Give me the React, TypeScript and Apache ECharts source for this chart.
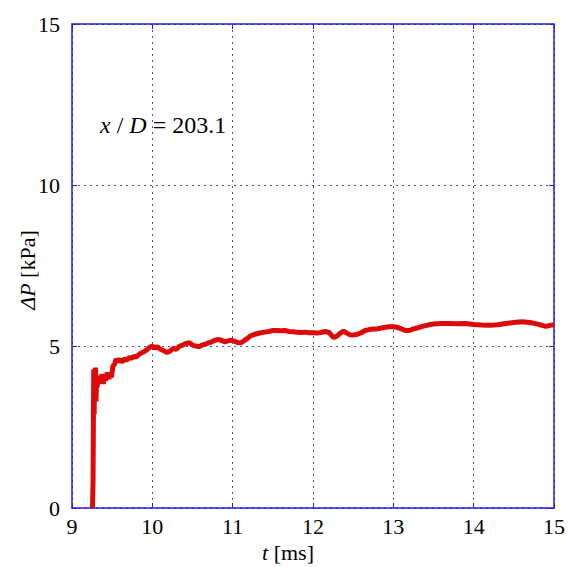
import React, { useEffect, useRef } from "react";
import * as echarts from "echarts";

// Pressure trace: [t (ms), ΔP (kPa)]
const pressureTrace: [number, number][] = [
  [9.255, 0], [9.262, 0.8], [9.266, 2.6], [9.271, 4.3], [9.276, 2.9], [9.281, 4.2],
  [9.287, 3.5], [9.293, 4.35], [9.299, 3.3], [9.306, 4.0], [9.314, 3.75], [9.322, 4.1],
  [9.333, 3.85], [9.345, 4.05], [9.36, 3.9], [9.375, 4.15], [9.39, 3.85], [9.405, 4.1],
  [9.42, 3.95], [9.44, 4.2], [9.46, 4.0], [9.475, 4.2], [9.49, 4.05], [9.51, 4.4],
  [9.53, 4.45], [9.55, 4.62], [9.57, 4.55], [9.6, 4.6], [9.62, 4.52], [9.65, 4.62],
  [9.68, 4.58], [9.71, 4.66], [9.74, 4.64], [9.77, 4.7], [9.8, 4.68], [9.83, 4.75],
  [9.86, 4.8], [9.9, 4.85], [9.93, 4.9], [9.96, 4.97], [10.0, 5.02], [10.03, 4.95],
  [10.06, 5.0], [10.1, 4.92], [10.14, 4.88], [10.18, 4.82], [10.22, 4.86], [10.26, 4.95],
  [10.3, 4.92], [10.34, 5.02], [10.38, 5.05], [10.42, 5.1], [10.46, 5.12], [10.5, 5.05],
  [10.54, 5.02], [10.58, 5.0], [10.62, 5.05], [10.66, 5.08], [10.7, 5.12], [10.74, 5.15],
  [10.78, 5.2], [10.82, 5.22], [10.86, 5.2], [10.9, 5.15], [10.94, 5.18], [10.98, 5.2],
  [11.02, 5.17], [11.06, 5.13], [11.1, 5.12], [11.14, 5.18], [11.18, 5.25], [11.22, 5.33],
  [11.26, 5.37], [11.3, 5.4], [11.35, 5.43], [11.4, 5.45], [11.45, 5.47], [11.5, 5.5],
  [11.55, 5.5], [11.6, 5.49], [11.65, 5.5], [11.7, 5.47], [11.75, 5.46], [11.8, 5.45],
  [11.85, 5.44], [11.9, 5.45], [11.95, 5.43], [12.0, 5.43], [12.05, 5.42], [12.1, 5.44],
  [12.15, 5.47], [12.2, 5.44], [12.23, 5.35], [12.26, 5.28], [12.3, 5.33], [12.34, 5.42],
  [12.38, 5.48], [12.42, 5.42], [12.46, 5.37], [12.5, 5.36], [12.55, 5.38], [12.6, 5.43],
  [12.65, 5.5], [12.7, 5.53], [12.75, 5.55], [12.8, 5.55], [12.85, 5.58], [12.9, 5.6],
  [12.95, 5.62], [13.0, 5.62], [13.05, 5.6], [13.1, 5.55], [13.15, 5.5], [13.2, 5.5],
  [13.25, 5.55], [13.3, 5.58], [13.35, 5.62], [13.4, 5.65], [13.45, 5.68], [13.5, 5.7],
  [13.6, 5.72], [13.7, 5.72], [13.8, 5.71], [13.9, 5.72], [14.0, 5.69], [14.1, 5.67],
  [14.2, 5.66], [14.3, 5.68], [14.4, 5.72], [14.5, 5.75], [14.6, 5.77], [14.7, 5.75],
  [14.8, 5.7], [14.85, 5.66], [14.9, 5.63], [14.95, 5.66], [15.0, 5.68],
];

const xRange = { min: 9, max: 15, step: 1 };
const yRange = { min: 0, max: 15, step: 5 };
const annotation = { xOverD: "203.1" };

const FONT = "Liberation Serif";
const FRAME = "#1f1fdd";
const GRID = "#4646e6";
const TRACE = "#dd0a0a";

export default function App() {
  const ref = useRef<HTMLDivElement>(null);

  useEffect(() => {
    document.body.style.margin = "0";
    document.body.style.overflow = "hidden";
    if (!ref.current) return;
    const chart = echarts.init(ref.current, null, { renderer: "svg" });

    const gridLine = { show: true, lineStyle: { color: GRID, type: [2, 4] as any, width: 1 } };
    const axisBase = {
      axisLine: { show: true, onZero: false, lineStyle: { color: FRAME, width: 1.5 } },
      axisTick: { show: true, inside: true, length: 5, lineStyle: { color: FRAME } },
      splitLine: gridLine,
    };
    const rich = (size: number) => ({
      i: { fontStyle: "italic", fontFamily: FONT, fontSize: size, color: "#000" },
      n: { fontFamily: FONT, fontSize: size, color: "#000" },
    });

    chart.setOption({
      animation: false,
      backgroundColor: "#fff",
      textStyle: { fontFamily: FONT },
      grid: { left: 72, right: 13, top: 24, bottom: 59, containLabel: false },
      xAxis: [
        {
          type: "value",
          min: xRange.min,
          max: xRange.max,
          interval: xRange.step,
          position: "bottom",
          ...axisBase,
          axisLabel: { color: "#000", fontFamily: FONT, fontSize: 22, margin: 7 },
        },
        {
          type: "value",
          min: xRange.min,
          max: xRange.max,
          interval: xRange.step,
          position: "top",
          ...axisBase,
          splitLine: { show: false },
          axisLabel: { show: false },
        },
      ],
      yAxis: [
        {
          type: "value",
          min: yRange.min,
          max: yRange.max,
          interval: yRange.step,
          position: "left",
          ...axisBase,
          axisLabel: { color: "#000", fontFamily: FONT, fontSize: 22, margin: 12 },
        },
        {
          type: "value",
          min: yRange.min,
          max: yRange.max,
          interval: yRange.step,
          position: "right",
          ...axisBase,
          splitLine: { show: false },
          axisLabel: { show: false },
        },
      ],
      series: [
        {
          type: "line",
          data: pressureTrace,
          showSymbol: false,
          lineStyle: { color: TRACE, width: 5 },
          xAxisIndex: 0,
          yAxisIndex: 0,
        },
      ],
      graphic: [
        {
          type: "text",
          x: 100,
          y: 125,
          style: {
            text: `{i|x}{n| / }{i|D}{n| = ${annotation.xOverD}}`,
            fill: "#000",
            verticalAlign: "middle",
            rich: rich(24),
          },
        },
        {
          type: "text",
          x: 27,
          y: 270,
          rotation: Math.PI / 2,
          style: {
            text: "{i|ΔP}{n| [kPa]}",
            fill: "#000",
            align: "center",
            verticalAlign: "middle",
            rich: rich(22),
          },
        },
        {
          type: "text",
          x: 288,
          y: 552,
          style: {
            text: "{i|t}{n| [ms]}",
            fill: "#000",
            align: "center",
            verticalAlign: "middle",
            rich: rich(22),
          },
        },
      ],
    });

    return () => chart.dispose();
  }, []);

  return <div ref={ref} style={{ width: 568, height: 567 }} />;
}
